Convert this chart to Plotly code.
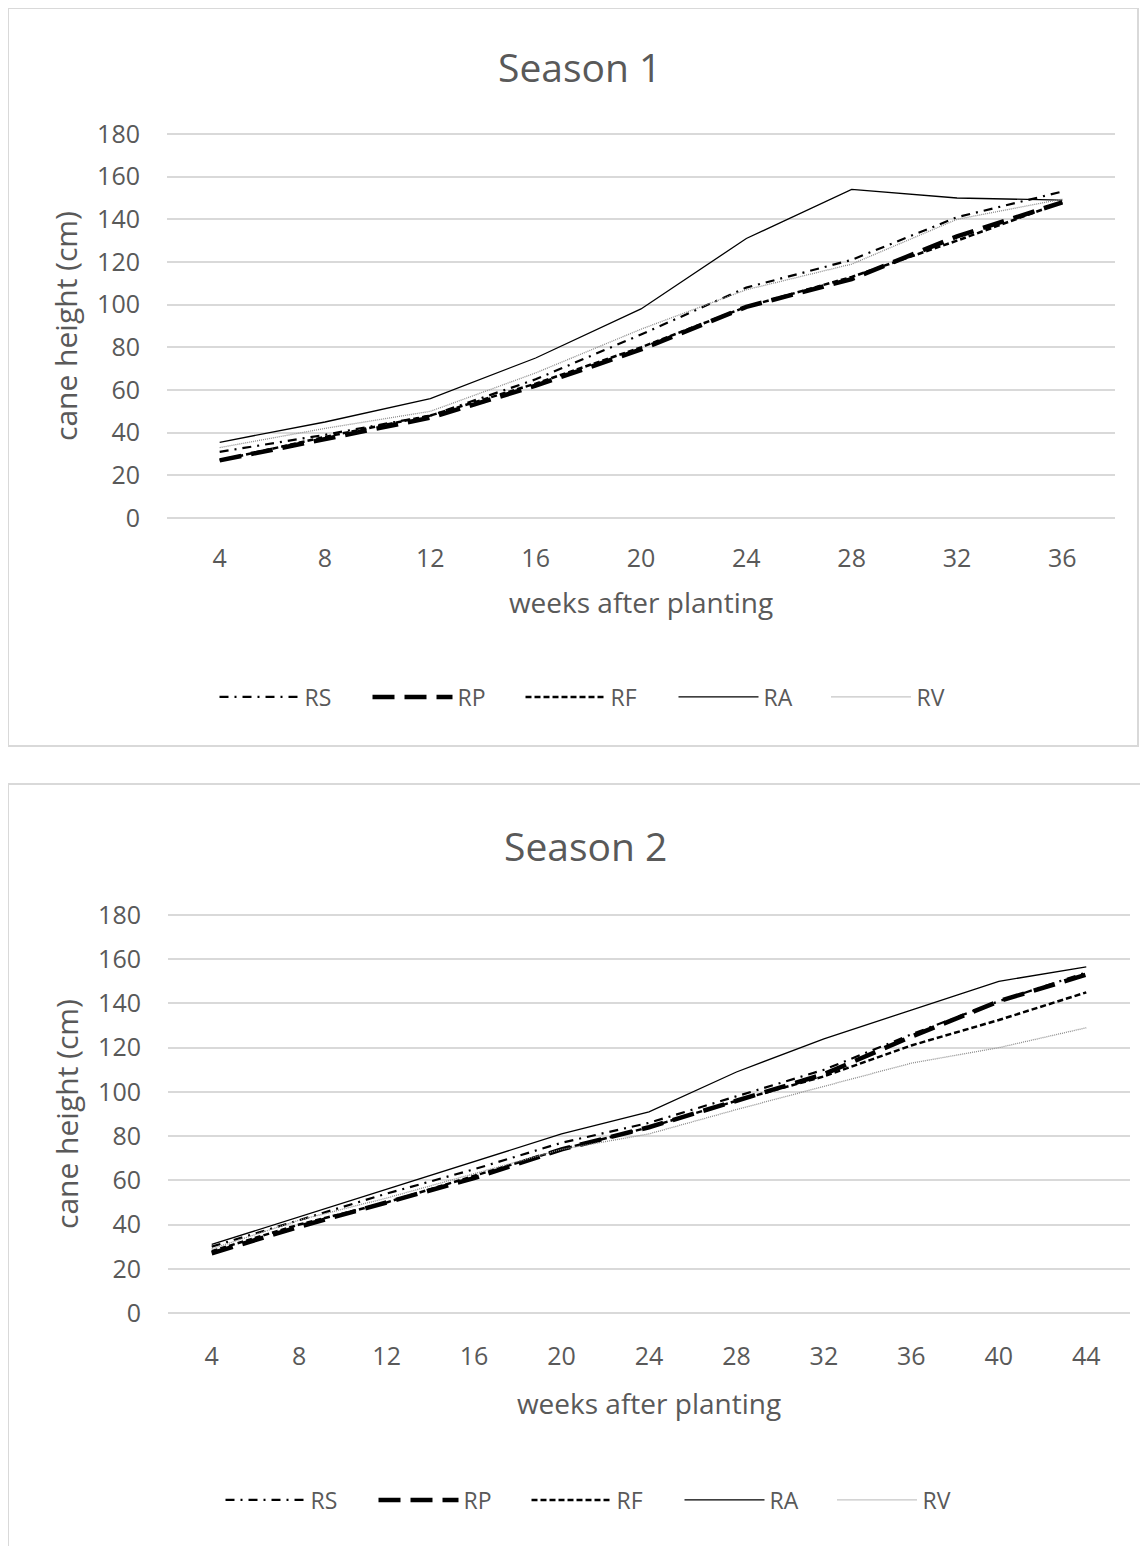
import plotly.graph_objects as go

# ---------------- data ----------------
weeks_s1 = ["4", "8", "12", "16", "20", "24", "28", "32", "36"]
weeks_s2 = ["4", "8", "12", "16", "20", "24", "28", "32", "36", "40", "44"]

s1_RS = [31, 39, 48, 65, 86, 108, 121, 141, 153]
s1_RP = [27, 37, 47, 62, 79, 99, 112, 132, 148]
s1_RF = [27, 38, 48, 63, 80, 99, 113, 130, 148]
s1_RA = [35.5, 45, 56, 75, 98, 131, 154, 150, 149]
s1_RV = [33, 42, 50, 68, 88.5, 107, 119, 140, 149.5]

s2_RS = [30, 42, 54, 65, 77, 86, 98, 110, 126, 141, 154]
s2_RP = [27, 39, 50, 61, 74, 84, 96, 108, 125, 141, 153]
s2_RF = [28, 40, 50, 62, 74, 84, 96, 107, 121, 132.5, 145]
s2_RA = [31, 43.5, 56, 68.5, 81, 91, 109, 124, 137, 150, 156.5]
s2_RV = [29, 42, 52, 63, 74, 81, 92, 102.5, 113, 120, 129]

series_names = ["RS", "RP", "RF", "RA", "RV"]
y_ticks = [0, 20, 40, 60, 80, 100, 120, 140, 160, 180]

# ---------------- styles ----------------
W, H = 1148, 1546
OFF = 8  # page body margin
FONT = "Open Sans"
TXT = "#595959"
GRID = "#d9d9d9"

styles = {
    "RS": dict(color="black", width=2.2, dash="9px,6px,2px,6px"),
    "RP": dict(color="black", width=4.5, dash="22px,10px"),
    "RF": dict(color="black", width=2.5, dash="6px,3px"),
    "RA": dict(color="black", width=1.3),
    "RV": dict(color="#8c8c8c", width=1.3, dash="1px,1px"),
}


def fx(px):
    return (px - OFF) / W


def fy(px):
    return 1 - (px - OFF) / H


fig = go.Figure()

s1 = dict(zip(series_names, [s1_RS, s1_RP, s1_RF, s1_RA, s1_RV]))
s2 = dict(zip(series_names, [s2_RS, s2_RP, s2_RF, s2_RA, s2_RV]))

for name in series_names:
    fig.add_trace(go.Scatter(x=weeks_s1, y=s1[name], mode="lines", name=name,
                             line=styles[name], xaxis="x", yaxis="y",
                             legend="legend"))
for name in series_names:
    fig.add_trace(go.Scatter(x=weeks_s2, y=s2[name], mode="lines", name=name,
                             line=styles[name], xaxis="x2", yaxis="y2",
                             legend="legend2"))

axis_font = dict(family=FONT, size=25, color=TXT)
EPS = 0.6  # tiny range padding so the 0 and 180 gridlines are drawn


def xtitle(standoff):
    return dict(text="weeks after planting", font=dict(family=FONT, size=28, color=TXT),
                standoff=standoff)


common_x = dict(type="category", showgrid=False, zeroline=False, showline=False,
                ticks="", tickfont=axis_font)
common_y = dict(range=[-EPS, 180 + EPS], tickvals=y_ticks, showgrid=True, gridcolor=GRID,
                gridwidth=2, zeroline=False, showline=False, ticks="", tickfont=axis_font,
                ticklabelstandoff=26,
                title=dict(text="cane height (cm)", font=dict(family=FONT, size=30, color=TXT),
                           standoff=10))


def ydom(px0, px180):
    per = (px0 - px180) / 180.0
    return [fy(px0 + EPS * per), fy(px180 - EPS * per)]


legend_common = dict(orientation="h", xanchor="center", yanchor="middle",
                     font=dict(family=FONT, size=23, color=TXT), itemwidth=80,
                     entrywidth=58, entrywidthmode="pixels",
                     bgcolor="rgba(0,0,0,0)", traceorder="normal")

fig.update_layout(
    width=W, height=H,
    margin=dict(l=0, r=0, t=0, b=0, autoexpand=False),
    paper_bgcolor="white", plot_bgcolor="white",
    font=dict(family=FONT, color=TXT),
    xaxis=dict(common_x, domain=[fx(167), fx(1115)], range=[-0.5, len(weeks_s1) - 0.5],
               anchor="y", ticklabelstandoff=22, title=xtitle(20)),
    yaxis=dict(common_y, domain=ydom(518, 134), anchor="x"),
    xaxis2=dict(common_x, domain=[fx(168), fx(1130)], range=[-0.5, len(weeks_s2) - 0.5],
                anchor="y2", ticklabelstandoff=25, title=xtitle(23)),
    yaxis2=dict(common_y, domain=ydom(1313, 915), anchor="x2"),
    legend=dict(legend_common, x=fx(597), y=fy(697)),
    legend2=dict(legend_common, x=fx(603), y=fy(1500)),
    showlegend=True,
)

fig.add_annotation(text="Season 1", x=fx(579), y=fy(67), xref="paper", yref="paper",
                   showarrow=False, font=dict(family=FONT, size=39, color=TXT),
                   xanchor="center", yanchor="middle")
fig.add_annotation(text="Season 2", x=fx(585), y=fy(845), xref="paper", yref="paper",
                   showarrow=False, font=dict(family=FONT, size=39, color=TXT),
                   xanchor="center", yanchor="middle")

# panel borders
fig.add_shape(type="rect", xref="paper", yref="paper", x0=fx(8), x1=fx(1138), y0=fy(746), y1=fy(8),
              line=dict(color=GRID, width=2), layer="below")
fig.add_shape(type="rect", xref="paper", yref="paper", x0=fx(8), x1=fx(1170), y0=fy(1580), y1=fy(784),
              line=dict(color=GRID, width=2), layer="below")

fig.write_html("out.html")
